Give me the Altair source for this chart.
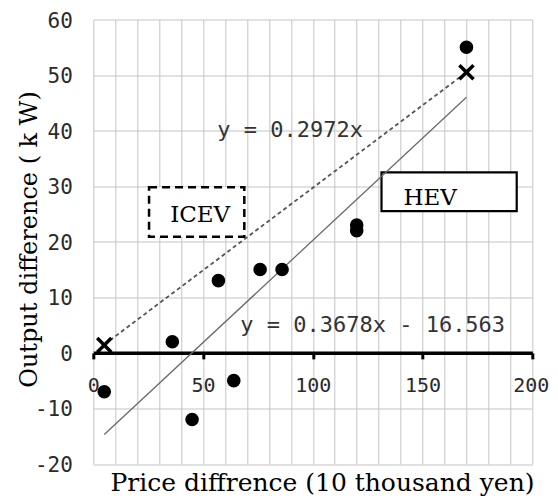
import altair as alt
import pandas as pd

# HEV data points (price diff, output diff)
hev_price = [5, 36, 45, 57, 64, 76, 86, 120, 120, 170]
hev_output = [-7, 2, -12, 13, -5, 15, 15, 23, 22, 55]

# ICEV points (x markers)
icev_price = [5, 170]
icev_output = [1.4, 50.5]

# Trend line end points
icev_fit_x = [5, 170]
icev_fit_y = [1.5, 50.5]
hev_fit_x = [5, 170]
hev_fit_y = [-14.7, 46.0]

# Axis ticks
x_ticks = list(range(0, 201, 10))
y_ticks = list(range(-20, 61, 10))

# Equation annotations
eq_labels = ["y = 0.2972x", "y = 0.3678x - 16.563"]
eq_x = [56.5, 67.0]
eq_y = [38.8, 3.8]

# Legend-like boxes
box_labels = ["ICEV", "HEV"]
box_x1 = [25.4, 131.3]
box_x2 = [68.8, 192.9]
box_y1 = [20.9, 25.5]
box_y2 = [29.8, 32.5]
box_text_x = [48.7, 153.5]
box_text_y = [23.6, 26.7]

W, H = 439, 444.5
X = alt.Scale(domain=[0, 200], nice=False)
Y = alt.Scale(domain=[-20, 60], nice=False)

pts = pd.DataFrame({"price": hev_price, "output": hev_output})
crosses = pd.DataFrame({"price": icev_price, "output": icev_output})
icev_fit = pd.DataFrame({"price": icev_fit_x, "output": icev_fit_y})
hev_fit = pd.DataFrame({"price": hev_fit_x, "output": hev_fit_y})
eqs = pd.DataFrame({"label": eq_labels, "x": eq_x, "y": eq_y})
boxes = pd.DataFrame({"label": box_labels, "x1": box_x1, "x2": box_x2,
                      "y1": box_y1, "y2": box_y2,
                      "tx": box_text_x, "ty": box_text_y})

x_axis = alt.Axis(
    values=x_ticks, grid=True, gridColor="#c4c4c4", gridWidth=1,
    domainColor="black", domainWidth=3.5,
    tickColor=alt.condition("datum.value % 50 === 0", alt.value("black"), alt.value("transparent")),
    tickWidth=3, tickSize=6,
    labelExpr="datum.value % 50 === 0 ? toString(datum.value) : ''",
    labelFont="DejaVu Sans Mono", labelFontSize=20, labelColor="#2a2a2a",
    labelOffset=alt.condition("datum.value === 200", alt.value(-1.5), alt.value(0)),
    labelPadding=16.5, labelOverlap=False, labelFlush=False,
    offset=-(H * 20 / 80),
    title="Price diffrence (10 thousand yen)",
    titleFont="DejaVu Serif", titleFontSize=25, titleFontWeight="normal",
    titleColor="black", titleX=228.7, titleY=138, titleBaseline="alphabetic",
    titleAlign="center", zindex=0,
)
y_axis = alt.Axis(
    values=y_ticks, grid=True, gridColor="#c4c4c4", gridWidth=1,
    domain=False, ticks=False, tickSize=0,
    labelExpr="toString(datum.value)",
    labelFont="DejaVu Sans Mono", labelFontSize=21, labelColor="#2a2a2a",
    labelPadding=21, labelOffset=1.5,
    title="Output difference ( k W)",
    titleFont="DejaVu Serif", titleFontSize=24, titleFontWeight="normal",
    titleColor="black", titleAngle=270, titleX=-56.3, titleY=219.5,
    titleBaseline="alphabetic", titleAlign="center", zindex=0,
)

base_x = alt.X("price:Q", scale=X, axis=x_axis)
base_y = alt.Y("output:Q", scale=Y, axis=y_axis)

icev_box = alt.Chart(boxes).transform_filter("datum.label == 'ICEV'").mark_rect(
    fill="white", stroke="black", strokeWidth=2.5, strokeDash=[8, 5]
).encode(x=alt.X("x1:Q", scale=X, axis=x_axis), x2="x2:Q",
         y=alt.Y("y1:Q", scale=Y, axis=y_axis), y2="y2:Q")
hev_box = alt.Chart(boxes).transform_filter("datum.label == 'HEV'").mark_rect(
    fill="white", stroke="black", strokeWidth=2.2
).encode(x=alt.X("x1:Q", scale=X, axis=x_axis), x2="x2:Q",
         y=alt.Y("y1:Q", scale=Y, axis=y_axis), y2="y2:Q")
box_text = alt.Chart(boxes).mark_text(
    font="DejaVu Serif", fontSize=23, color="black", align="center", baseline="alphabetic"
).encode(x=alt.X("tx:Q", scale=X, axis=x_axis), y=alt.Y("ty:Q", scale=Y, axis=y_axis), text="label:N")

line_icev = alt.Chart(icev_fit).mark_line(
    color="#555", strokeWidth=1.8, strokeDash=[4, 3]
).encode(x=base_x, y=base_y)
line_hev = alt.Chart(hev_fit).mark_line(
    color="#6a6a6a", strokeWidth=1.3
).encode(x=base_x, y=base_y)

circles = alt.Chart(pts).mark_circle(size=185, color="black", opacity=1).encode(x=base_x, y=base_y)
xmarks = alt.Chart(crosses).mark_point(
    shape="M-1,-1L1,1M-1,1L1,-1", size=200, filled=False, stroke="black",
    strokeWidth=3.5, opacity=1
).encode(x=base_x, y=base_y)

eq_text = alt.Chart(eqs).mark_text(
    font="DejaVu Sans Mono", fontSize=22, color="#333", align="left", baseline="alphabetic"
).encode(x=alt.X("x:Q", scale=X, axis=x_axis), y=alt.Y("y:Q", scale=Y, axis=y_axis), text="label:N")

chart = alt.layer(
    icev_box, hev_box, line_icev, line_hev, circles, xmarks, eq_text, box_text
).properties(
    width=W, height=H,
    autosize=alt.AutoSizeParams(type="none"),
    padding={"left": 85.3, "top": 11.5, "right": 17.5, "bottom": 35},
).configure_view(stroke=None)

chart.save("out.html", embed_options={"renderer": "svg", "actions": False})
